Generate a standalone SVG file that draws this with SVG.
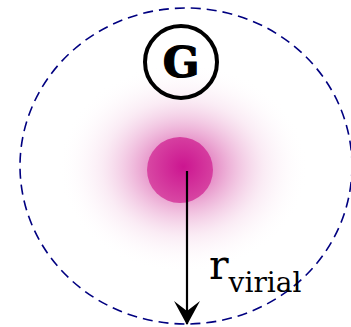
<svg xmlns="http://www.w3.org/2000/svg" width="351" height="327" viewBox="0 0 351 327">
<style>
.txt{font-family:"DejaVu Serif","Liberation Serif",serif;fill:#000}
</style>
<defs>
<radialGradient id="glow" cx="183" cy="168" r="125" gradientUnits="userSpaceOnUse" gradientTransform="translate(183 168) scale(1 0.84) translate(-183 -168)">
<stop offset="0" stop-color="#cc1590" stop-opacity="0.85"/>
<stop offset="0.3" stop-color="#d4409f" stop-opacity="0.5"/>
<stop offset="0.65" stop-color="#e8a0cc" stop-opacity="0.2"/>
<stop offset="1" stop-color="#ffffff" stop-opacity="0"/>
</radialGradient>
<radialGradient id="core" cx="0.55" cy="0.45" r="0.6">
<stop offset="0" stop-color="#cc1590"/>
<stop offset="1" stop-color="#d94ca5"/>
</radialGradient>
</defs>
<rect width="351" height="327" fill="#fff"/>
<g id="halo">
<ellipse cx="183" cy="168" rx="126" ry="106" fill="url(#glow)"/>
<circle cx="180" cy="170" r="33" fill="url(#core)"/>
</g>
<g id="boundary">
<ellipse cx="186" cy="166" rx="166" ry="158" fill="none" stroke="#000080" stroke-width="1.6" stroke-dasharray="10 6"/>
</g>
<g id="G-node">
<circle cx="181" cy="62" r="36" fill="none" stroke="#000" stroke-width="4"/>
<text class="txt" x="181" y="77" font-size="43" font-weight="bold" text-anchor="middle" stroke="#000" stroke-width="1.2">G</text>
</g>
<g id="connectors">
<line x1="187" y1="171" x2="187" y2="324" stroke="#000" stroke-width="2.2"/>
<path d="M174,301 L187,325 L200,301 L187,311 Z" fill="#000"/>
</g>
<g id="label">
<text class="txt" x="209" y="279" font-size="41">r<tspan font-size="28" dy="13">virial</tspan></text>
</g>
</svg>
